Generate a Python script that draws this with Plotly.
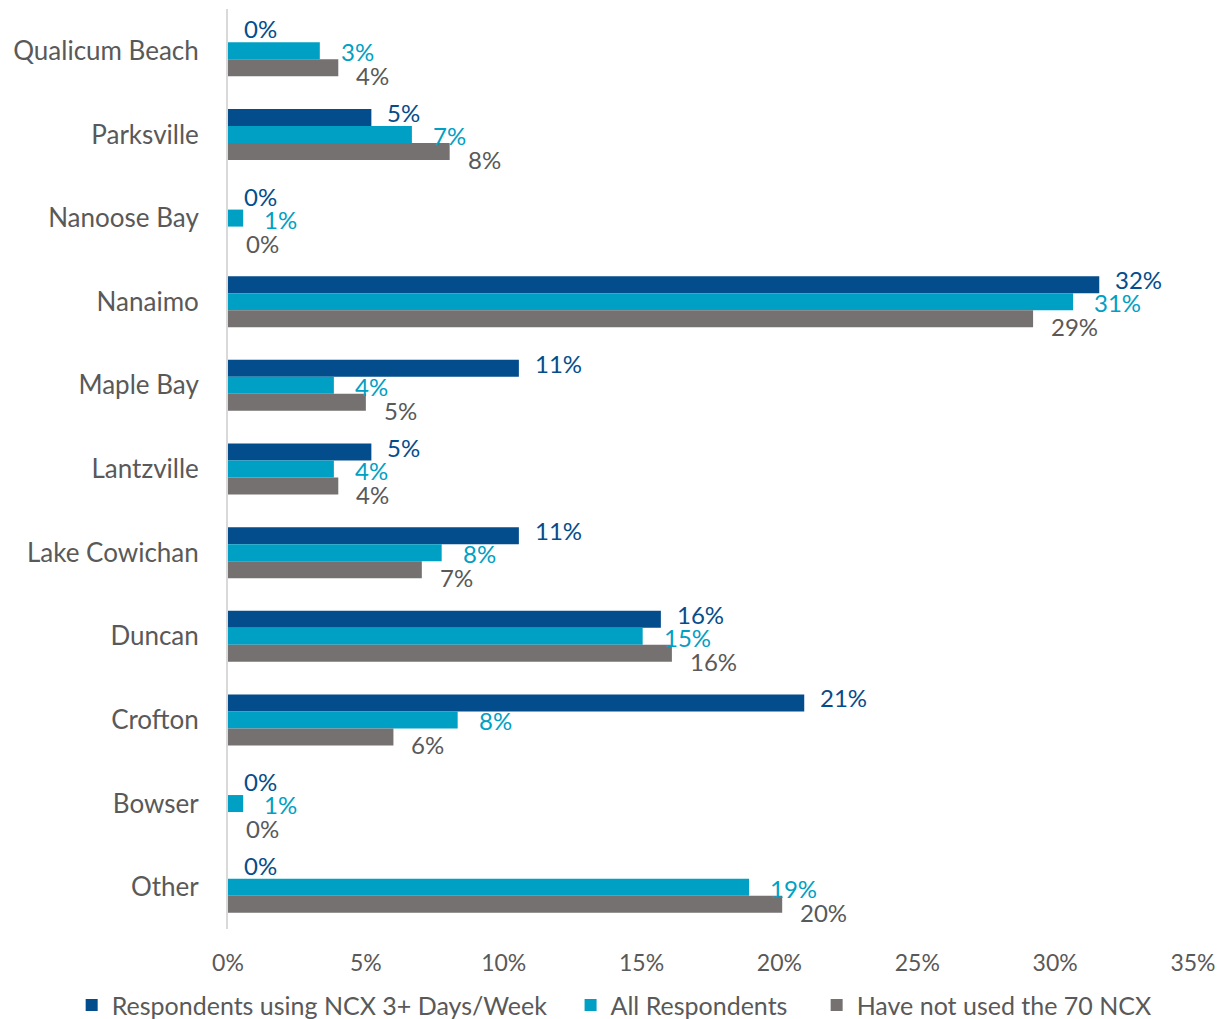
import plotly.graph_objects as go

categories = ["Qualicum Beach", "Parksville", "Nanoose Bay", "Nanaimo", "Maple Bay",
              "Lantzville", "Lake Cowichan", "Duncan", "Crofton", "Bowser", "Other"]
series_names = ["Respondents using NCX 3+ Days/Week", "All Respondents", "Have not used the 70 NCX"]
frequent_users = [0, 5.2, 0, 31.6, 10.55, 5.2, 10.55, 15.7, 20.9, 0, 0]
all_respondents = [3.33, 6.67, 0.55, 30.65, 3.84, 3.84, 7.75, 15.04, 8.33, 0.55, 18.9]
not_used = [4.0, 8.04, 0, 29.2, 5.0, 4.0, 7.03, 16.1, 6.0, 0, 20.1]
tick_values = [0, 5, 10, 15, 20, 25, 30, 35]
tick_labels = ["0%", "5%", "10%", "15%", "20%", "25%", "30%", "35%"]

bar_colors = ["#044D8C", "#00A0C4", "#767171"]
label_colors = ["#044D8C", "#00A0C4", "#595959"]
label_yshift = [-22, 1, 25]
label_xshift = [14, 19, 16]
legend_ids = ["legend", "legend2", "legend3"]
legend_x = [-0.162, 0.355, 0.61]
FONT = "Lato, 'Open Sans', sans-serif"

fig = go.Figure()
all_series = [frequent_users, all_respondents, not_used]
for name, vals, col, lg in zip(series_names, all_series, bar_colors, legend_ids):
    fig.add_trace(go.Bar(y=categories, x=vals, name=name, orientation="h", legend=lg,
                         marker=dict(color=col, line=dict(width=0))))

annotations = []
for vals, col, ys, xs in zip(all_series, label_colors, label_yshift, label_xshift):
    for cat, v in zip(categories, vals):
        annotations.append(dict(x=v, y=cat, xref="x", yref="y", text=f"{v:.0f}%",
                                showarrow=False, xanchor="left", yanchor="middle",
                                xshift=xs, yshift=-ys,
                                font=dict(family=FONT, size=24, color=col)))

legend_common = dict(orientation="h", xanchor="left", y=-0.083, yanchor="middle",
                     font=dict(family=FONT, size=25, color="#595959"),
                     itemwidth=30, bgcolor="rgba(0,0,0,0)")

fig.update_layout(
    width=1222, height=1011,
    paper_bgcolor="white", plot_bgcolor="white",
    margin=dict(l=220, r=37, t=1, b=90, autoexpand=False),
    barmode="group", bargap=0.39, bargroupgap=0,
    font=dict(family=FONT, size=24, color="#595959"),
    annotations=annotations,
    showlegend=True,
    legend=dict(x=legend_x[0], **legend_common),
    legend2=dict(x=legend_x[1], **legend_common),
    legend3=dict(x=legend_x[2], **legend_common),
    xaxis=dict(range=[0, 35], tickvals=tick_values, ticktext=tick_labels,
               showgrid=False, zeroline=False, showline=False, ticks="",
               tickfont=dict(family=FONT, size=23, color="#595959"), ticklabelstandoff=18),
    yaxis=dict(autorange="reversed", categoryorder="array", categoryarray=categories,
               showgrid=False, zeroline=False, showline=True, linecolor="#D9D9D9", linewidth=2,
               ticks="", tickfont=dict(family=FONT, size=26, color="#595959"), ticklabelstandoff=22),
)

fig.write_html("out.html")
